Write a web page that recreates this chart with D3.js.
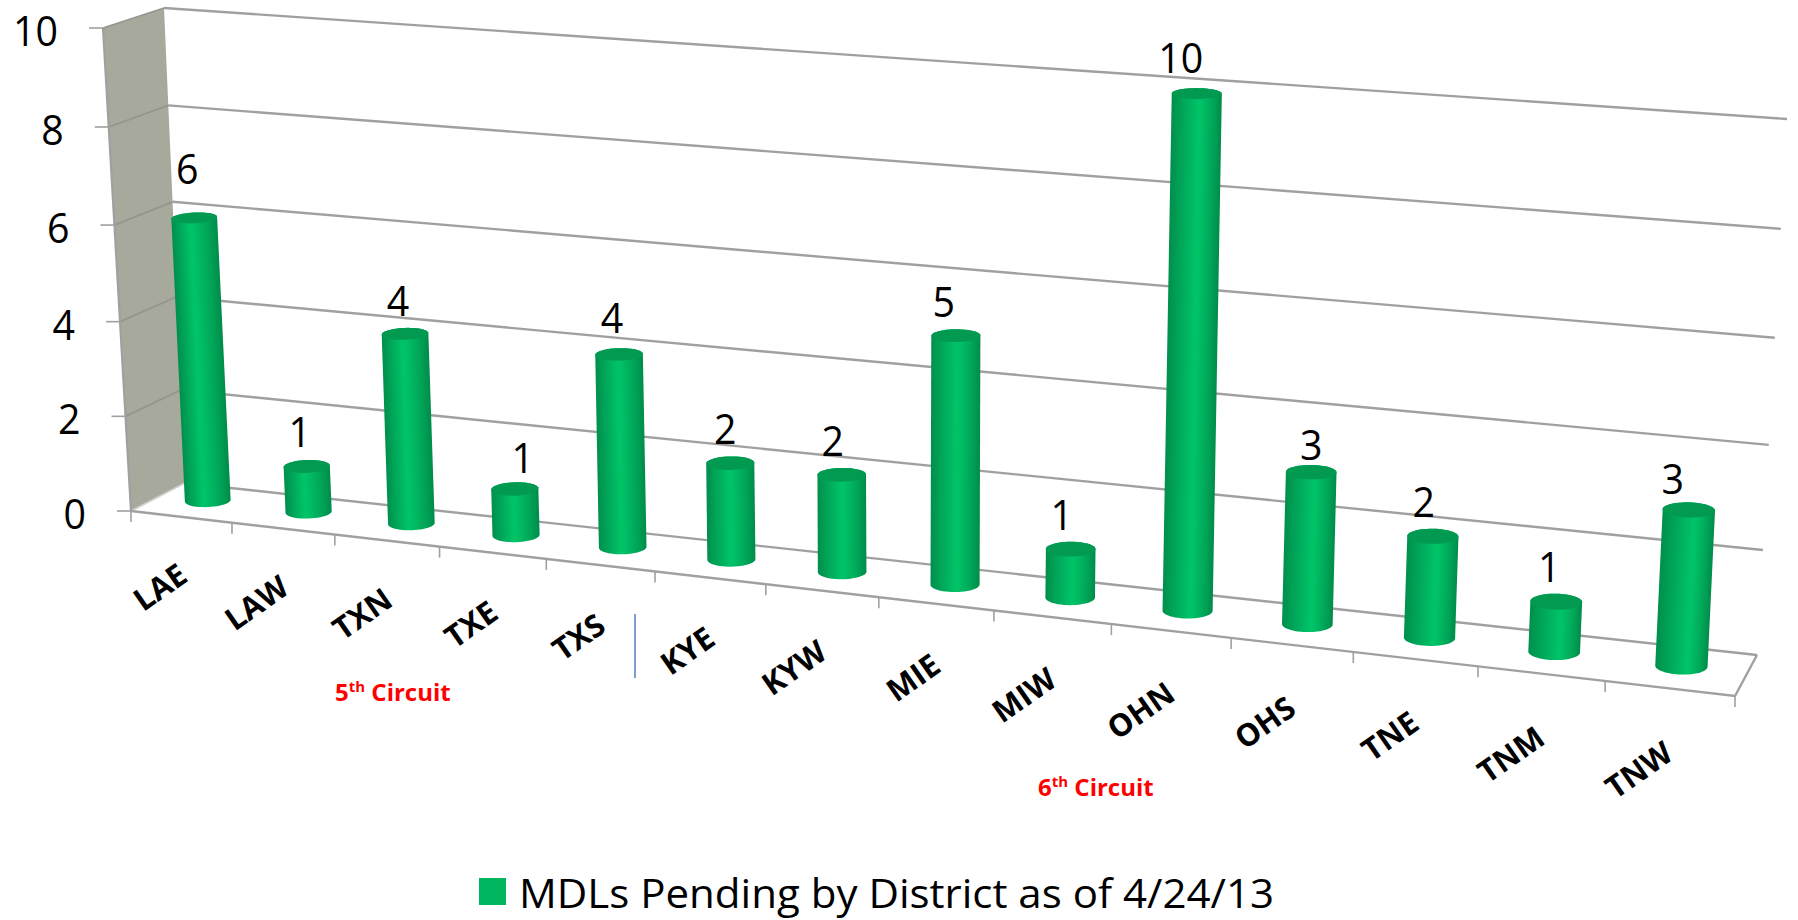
<!DOCTYPE html>
<html><head><meta charset="utf-8">
<script src="https://cdn.jsdelivr.net/npm/d3@7/dist/d3.min.js"></script>
<style>html,body{margin:0;padding:0;background:#fff;overflow:hidden}svg{display:block}text{font-family:"Open Sans",sans-serif}</style>
</head><body>
<script>
const categories = ["LAE","LAW","TXN","TXE","TXS","KYE","KYW","MIE","MIW","OHN","OHS","TNE","TNM","TNW"];
const pending = [6,1,4,1,4,2,2,5,1,10,3,2,1,3];
const valueTicks = [0,2,4,6,8,10];
const seriesName = "MDLs Pending by District as of 4/24/13";

const W=1798,H=920;
const svg=d3.select("body").append("svg").attr("width",W).attr("height",H);
const defs=svg.append("defs");

// Box corners of the 3D chart
const box={fbl:[131,511],fbr:[1735,696],ftl:[103,28],ftr:[1760,150],
           bbl:[185,483],bbr:[1757,655],btl:[164,8],btr:[1787,119]};
// value axis with the slight perspective stretch towards the top
const vScale=d3.scaleLinear().domain(valueTicks).range([0,.196,.392,.592,.795,1]);
const band=d3.scaleBand().domain(categories).range([0,1]);
const persp=u=>u/(1+0.145*(1-u));          // foreshortening along the category axis
const lerp=(a,b,t)=>[a[0]+(b[0]-a[0])*t,a[1]+(b[1]-a[1])*t];
function P(u,d,v){
  const f=persp(u),t=vScale(v);
  const fb=lerp(box.fbl,box.fbr,f),ft=lerp(box.ftl,box.ftr,f),
        bb=lerp(box.bbl,box.bbr,f),bt=lerp(box.btl,box.btr,f);
  return lerp(lerp(fb,ft,t),lerp(bb,bt,t),d);
}
const line=d3.line();
const grey="#a0a0a0";
// digits squeezed slightly to the proportions of the reference typeface
const numLabel=(x,y,anchor,v)=>svg.append("text").attr("x",x).attr("y",y).attr("text-anchor",anchor)
   .attr("font-size",42).attr("fill","#000").attr("textLength",String(v).length*22.5).attr("lengthAdjust","spacingAndGlyphs").text(v);

// Left wall
svg.append("path").attr("d",line([box.ftl,box.btl,box.bbl,box.fbl])+"Z").attr("fill","#a7a99c");
// Back-wall and side-wall gridlines
valueTicks.forEach(v=>{
  svg.append("path").attr("d",line([P(0,1,v),P(1,1,v)])).attr("stroke",grey).attr("stroke-width",2.4).attr("fill","none");
  svg.append("path").attr("d",line([P(0,0,v),P(0,1,v)])).attr("stroke",v===0?"#d0d0d0":"#94958f").attr("stroke-width",1.8).attr("fill","none");
  const p=P(0,0,v);
  svg.append("line").attr("x1",p[0]-14).attr("x2",p[0]).attr("y1",p[1]).attr("y2",p[1]).attr("stroke",grey).attr("stroke-width",1.6);
  numLabel(p[0]-45,p[1]+18,"end",v);
});
// Left wall front edge
svg.append("path").attr("d",line([box.ftl,box.fbl])).attr("stroke",grey).attr("stroke-width",2.2).attr("fill","none");
// Floor edges
svg.append("path").attr("d",line([box.fbl,box.fbr,box.bbr])).attr("stroke",grey).attr("stroke-width",2.4).attr("fill","none");
// Category ticks
d3.range(categories.length+1).forEach(i=>{
  const p=P(i/categories.length,0,0);
  svg.append("line").attr("x1",p[0]).attr("x2",p[0]).attr("y1",p[1]).attr("y2",p[1]+11).attr("stroke",grey).attr("stroke-width",1.6);
});

// Hand placement of the data labels in the original
const labelNudge={LAE:[0,0],LAW:[0,-1],TXN:[0,0],TXE:[15,3],TXS:[0,-3],KYE:[2,0],KYW:[-2,0],MIE:[-5,0],MIW:[-2,0],OHN:[-9,-3],OHS:[7,7],TNE:[-2,0],TNM:[0,0],TNW:[-9,4]};

// Columns
const widthFrac=d3.scaleLinear().domain([0,1]).range([.46,.405]);
const ryBase=d3.scaleLinear().domain([0,1]).range([6.4,8.4]);
const tilt=d3.scaleLinear().domain([0,1]).range([-.05,.03]);
const shine=d3.scaleLinear().domain([0,1]).range([.40,.62]);
function ellipse(c,rx,ry,a){
  return d3.range(48).map(k=>{
    const t=k/48*2*Math.PI,x=rx*Math.cos(t),y=ry*Math.sin(t);
    return [c[0]+x*Math.cos(a)-y*Math.sin(a),c[1]+x*Math.sin(a)+y*Math.cos(a)];
  });
}
const labelX=d3.scaleLinear().domain([0,1]).range([106,1707]);
const labelY=d3.scaleLinear().domain([0,1]).range([584,776]);
categories.forEach((cat,i)=>{
  const v=pending[i],uc=band(cat)+band.bandwidth()/2,hw=widthFrac(uc)*band.bandwidth()/2;
  const depth=.5;
  const bot=P(uc,depth,0),top=P(uc,depth,v);
  bot[1]-=2;
  const edgeA=P(uc-hw,depth,0),edgeB=P(uc+hw,depth,0);
  const rx=Math.abs(edgeB[0]-edgeA[0])/2;
  const a=tilt(uc),ry=ryBase(uc);
  const ryTop=ry*(1-.03*v);
  const eTop=ellipse(top,rx,ryTop,a),eBot=ellipse(bot,rx,ry,a);
  const hull=d3.polygonHull(eTop.concat(eBot));
  // gradient runs across the column axis
  const ax=[top[0]-bot[0],top[1]-bot[1]],L=Math.hypot(ax[0],ax[1]),n=[-ax[1]/L,ax[0]/L];
  const mid=[(top[0]+bot[0])/2,(top[1]+bot[1])/2];
  const g1=[mid[0]-n[0]*rx,mid[1]-n[1]*rx],g2=[mid[0]+n[0]*rx,mid[1]+n[1]*rx];
  const [gl,gr]=g1[0]<g2[0]?[g1,g2]:[g2,g1];
  const s=shine(uc);
  const grad=defs.append("linearGradient").attr("id","col"+i).attr("gradientUnits","userSpaceOnUse")
    .attr("x1",gl[0]).attr("y1",gl[1]).attr("x2",gr[0]).attr("y2",gr[1]);
  [[0,"#008f4c"],[s*.35,"#00a257"],[s,"#00c468"],[s+(1-s)*.2,"#00bd64"],[s+(1-s)*.65,"#00a457"],[1,"#008c4a"]]
    .forEach(o=>grad.append("stop").attr("offset",o[0]).attr("stop-color",o[1]));
  svg.append("path").attr("d",line(hull)+"Z").attr("fill",`url(#col${i})`);
  svg.append("path").attr("d",line(eTop)+"Z").attr("fill","#019a50");
  const labelLift=i===0?29:12,nudge=labelNudge[cat];
  numLabel(top[0]-7+nudge[0],top[1]-ryTop-labelLift+nudge[1],"middle",v);
  // Category label: right end anchored towards its tick
  const f=persp(uc);
  svg.append("text").attr("transform",`translate(${labelX(f)},${labelY(f)}) rotate(-35)`).attr("x",33).attr("text-anchor","end").attr("dy","0.35em")
    .attr("font-size",31).attr("font-weight",700).attr("fill","#000").text(cat);
});

// Circuit annotations
function circuit(x,y,num){
  const t=svg.append("text").attr("x",x).attr("y",y).attr("font-size",24).attr("font-weight",700).attr("fill","#ff0000");
  t.append("tspan").text(num);
  t.append("tspan").attr("font-size",15).attr("dy",-9).text("th");
  t.append("tspan").attr("dy",9).text(" Circuit");
}
circuit(335,701,"5");
circuit(1038,796,"6");
svg.append("line").attr("x1",635).attr("x2",635).attr("y1",614).attr("y2",678).attr("stroke","#5b87c0").attr("stroke-width",1.6);

// Legend
svg.append("rect").attr("x",479).attr("y",878).attr("width",27).attr("height",27).attr("fill","#00b65f");
svg.append("text").attr("x",519).attr("y",908).attr("font-size",41).attr("fill","#000")
  .attr("textLength",755).attr("lengthAdjust","spacingAndGlyphs").text(seriesName);
</script>
</body></html>
